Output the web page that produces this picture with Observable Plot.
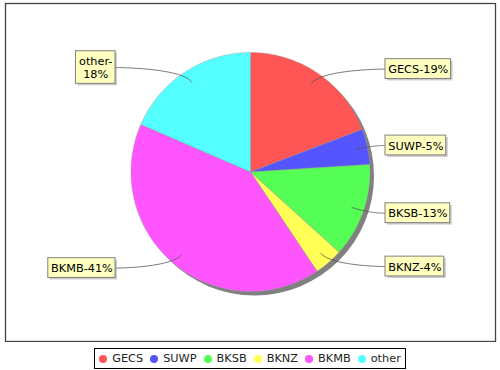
<!DOCTYPE html>
<html><head><meta charset="utf-8">
<script src="https://cdn.jsdelivr.net/npm/d3@7"></script>
<script src="https://cdn.jsdelivr.net/npm/@observablehq/plot@0.6"></script>
<style>
html,body{margin:0;padding:0;background:#fff;}
body{width:500px;height:370px;position:relative;font-family:"DejaVu Sans",sans-serif;}
#chart{position:absolute;left:0;top:0;}
#legend{position:absolute;left:0;top:348px;width:500px;display:flex;justify-content:center;}
#legend .box{border:1px solid #000;height:19px;display:flex;align-items:center;padding:0 4px;font-size:11.3px;color:#222;}
#legend .item{display:flex;align-items:center;margin-right:7px;}
#legend .item:last-child{margin-right:0;}
#legend .sw{width:8px;height:8px;border-radius:50%;margin-right:5px;}
</style></head><body>
<div id="chart"></div>
<div id="legend"></div>
<script>
const categories = ["GECS", "SUWP", "BKSB", "BKNZ", "BKMB", "other"];
const values = [19.2, 4.8, 12.7, 3.9, 40.9, 18.5];
const labelTexts = ["GECS-19%", "SUWP-5%", "BKSB-13%", "BKNZ-4%", "BKMB-41%", "other-\n18%"];
const colors = ["#FF5555", "#5555FF", "#55FF55", "#FFFF55", "#FF55FF", "#55FFFF"];

const W = 500, H = 342;
const cx = 250, cy = 171.5, R = 119.5;
const total = d3.sum(values);
const pt = (a, r) => ({x: cx + r * Math.sin(a), y: cy - r * Math.cos(a)});

let acc = 0;
const slices = categories.map((name, i) => {
  const a0 = acc / total * 2 * Math.PI; acc += values[i];
  const a1 = acc / total * 2 * Math.PI;
  return {name, i, a0, a1, mid: (a0 + a1) / 2};
});

// slice polygons
const polys = [];
for (const s of slices) {
  polys.push({name: s.name, ...pt(0, 0)});
  const n = Math.max(2, Math.ceil((s.a1 - s.a0) / 0.01));
  for (let k = 0; k <= n; k++) polys.push({name: s.name, ...pt(s.a0 + (s.a1 - s.a0) * k / n, R)});
  polys.push({name: s.name, ...pt(0, 0)});
}

// label boxes
const ctx = document.createElement("canvas").getContext("2d");
ctx.font = "11px 'DejaVu Sans'";
const boxes = slices.map((s, i) => {
  const lines = labelTexts[i].split("\n");
  const w = Math.max(...lines.map(l => ctx.measureText(l).width)) + 7;
  const h = lines.length * 12.8 + 7;
  const right = Math.sin(s.mid) >= 0;
  const ly = cy - 125 * Math.cos(s.mid);
  const x1 = right ? cx + 135 : cx - 135 - w;
  const x2 = x1 + w;
  return {name: s.name, text: labelTexts[i], right, x1, x2, y1: ly - h / 2, y2: ly + h / 2, xc: (x1 + x2) / 2, yc: ly, mid: s.mid};
});

// link curves (cubic from label edge to inside the slice)
const links = [];
for (const b of boxes) {
  const sgn = b.right ? 1 : -1;
  const P0 = {x: b.right ? b.x1 : b.x2, y: b.yc};
  const P1 = {x: cx + sgn * R * 1.1, y: b.yc};
  const P2 = pt(b.mid, R * 1.04);
  const P3 = pt(b.mid, R * 0.9);
  for (let k = 0; k <= 40; k++) {
    const t = k / 40, u = 1 - t;
    links.push({name: b.name,
      x: u*u*u*P0.x + 3*u*u*t*P1.x + 3*u*t*t*P2.x + t*t*t*P3.x,
      y: u*u*u*P0.y + 3*u*u*t*P1.y + 3*u*t*t*P2.y + t*t*t*P3.y});
  }
}

const plot = Plot.plot({
  width: W, height: H,
  marginLeft: 5, marginRight: 5, marginTop: 3, marginBottom: 1,
  x: {domain: [0, W], range: [0, W], axis: null},
  y: {domain: [0, H], range: [0, H], axis: null},
  color: {domain: categories, range: colors},
  style: {fontFamily: "'DejaVu Sans', sans-serif", background: "#fff"},
  marks: [
    Plot.frame({stroke: "#444", strokeWidth: 1.3}),
    Plot.dot([{x: cx + 4, y: cy + 4}], {x: "x", y: "y", r: R, fill: "#808080", stroke: "none"}),
    Plot.line(polys, {x: "x", y: "y", z: "name", fill: "name", stroke: "#999", strokeWidth: 0.4, curve: "linear"}),
    Plot.line(links, {x: "x", y: "y", z: "name", stroke: "#555", strokeWidth: 0.8}),
    Plot.rect(boxes, {x1: d => d.x1 + 2, x2: d => d.x2 + 2, y1: d => d.y1 + 2, y2: d => d.y2 + 2, fill: "rgba(151,151,151,0.5)"}),
    Plot.rect(boxes, {x1: "x1", x2: "x2", y1: "y1", y2: "y2", fill: "#FFFFC0", stroke: "#808080", strokeWidth: 1}),
    Plot.text(boxes, {x: "xc", y: "yc", text: "text", fontSize: 11.3, fill: "#000", lineHeight: 1.14, textAnchor: "middle"})
  ]
});
document.getElementById("chart").appendChild(plot);

// legend
const box = d3.select("#legend").append("div").attr("class", "box");
categories.forEach((c, i) => {
  const it = box.append("div").attr("class", "item");
  it.append("div").attr("class", "sw").style("background", colors[i]);
  it.append("span").text(c);
});
</script>
</body></html>
